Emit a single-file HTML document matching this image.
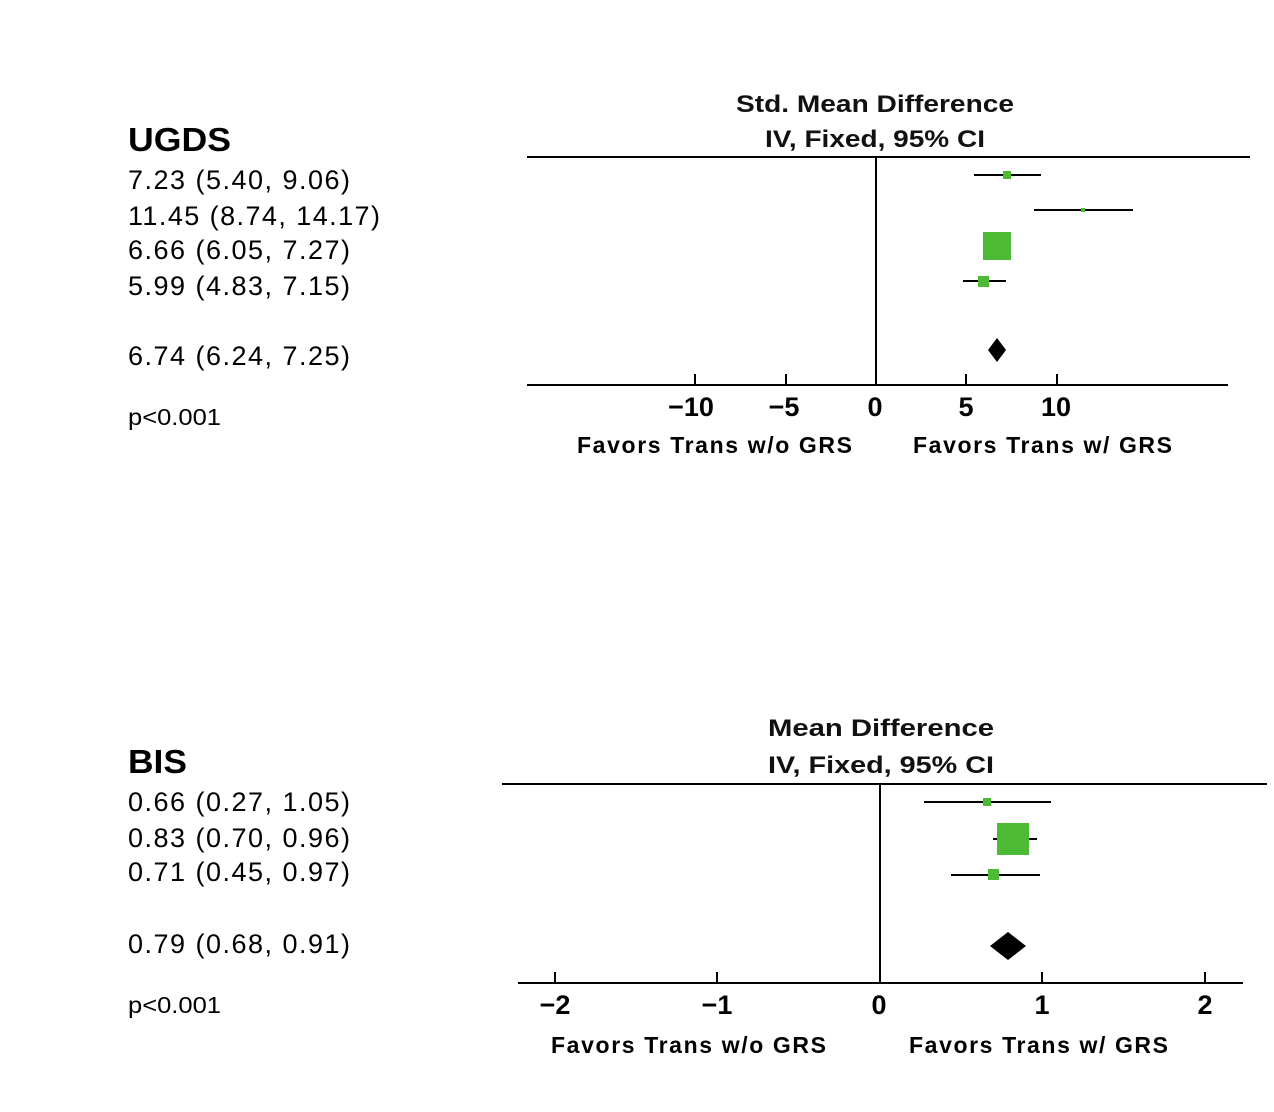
<!DOCTYPE html>
<html><head><meta charset="utf-8"><style>body{margin:0;background:#fff}svg{display:block}</style></head><body>
<svg width="1274" height="1112" viewBox="0 0 1274 1112" xmlns="http://www.w3.org/2000/svg" font-family="Liberation Sans, sans-serif">
<rect width="1274" height="1112" fill="#fff"/>
<text x="128" y="151" font-size="33" font-weight="bold" textLength="103" lengthAdjust="spacingAndGlyphs">UGDS</text>
<g font-size="27" lengthAdjust="spacingAndGlyphs">
<text x="128" y="189" textLength="222">7.23 (5.40,  9.06)</text>
<text x="128" y="225" textLength="252">11.45  (8.74,  14.17)</text>
<text x="128" y="259" textLength="222">6.66 (6.05,  7.27)</text>
<text x="128" y="295" textLength="222">5.99 (4.83,  7.15)</text>
<text x="128" y="365" textLength="222">6.74 (6.24,  7.25)</text>
</g>
<text x="128" y="425" font-size="23" textLength="93" lengthAdjust="spacingAndGlyphs">p&lt;0.001</text>
<g font-weight="bold" font-size="24" text-anchor="middle" fill="#111">
<text x="875" y="112" textLength="278" lengthAdjust="spacingAndGlyphs">Std. Mean Difference</text>
<text x="875" y="147" textLength="220" lengthAdjust="spacingAndGlyphs">IV, Fixed, 95% CI</text>
</g>
<g stroke="#000" stroke-width="2">
<line x1="527" y1="157" x2="1250" y2="157"/>
<line x1="876" y1="157" x2="876" y2="385"/>
<line x1="527" y1="385" x2="1228" y2="385"/>
<line x1="695" y1="374" x2="695" y2="385"/><line x1="786" y1="374" x2="786" y2="385"/>
<line x1="966" y1="374" x2="966" y2="385"/><line x1="1057" y1="374" x2="1057" y2="385"/>
<line x1="974" y1="175" x2="1041" y2="175"/>
<line x1="1034" y1="210" x2="1133" y2="210"/>
<line x1="963" y1="281" x2="1006" y2="281"/>
</g>
<g fill="#4cba35">
<rect x="1003" y="171" width="8" height="8"/>
<rect x="1081" y="208" width="4" height="4"/>
<rect x="983" y="232" width="28" height="28"/>
<rect x="978" y="276" width="11" height="11"/>
</g>
<polygon points="997,338 1006,350 997,362 988,350" fill="#000"/>
<g font-weight="bold" font-size="27" text-anchor="middle">
<text x="691" y="416">−10</text><text x="784" y="416">−5</text><text x="875" y="416">0</text>
<text x="966" y="416">5</text><text x="1056" y="416">10</text>
</g>
<g font-weight="bold" font-size="23" lengthAdjust="spacingAndGlyphs">
<text x="577" y="453" textLength="275">Favors Trans w/o GRS</text>
<text x="913" y="453" textLength="259">Favors Trans w/ GRS</text>
</g>
<text x="128" y="773" font-size="33" font-weight="bold" textLength="59" lengthAdjust="spacingAndGlyphs">BIS</text>
<g font-size="27" lengthAdjust="spacingAndGlyphs">
<text x="128" y="811" textLength="222">0.66 (0.27,  1.05)</text>
<text x="128" y="847" textLength="222">0.83 (0.70,  0.96)</text>
<text x="128" y="881" textLength="222">0.71 (0.45,  0.97)</text>
<text x="128" y="953" textLength="222">0.79 (0.68,  0.91)</text>
</g>
<text x="128" y="1013" font-size="23" textLength="93" lengthAdjust="spacingAndGlyphs">p&lt;0.001</text>
<g font-weight="bold" font-size="24" text-anchor="middle" fill="#111">
<text x="881" y="736" textLength="226" lengthAdjust="spacingAndGlyphs">Mean Difference</text>
<text x="881" y="773" textLength="226" lengthAdjust="spacingAndGlyphs">IV, Fixed, 95% CI</text>
</g>
<g stroke="#000" stroke-width="2">
<line x1="502" y1="784" x2="1267" y2="784"/>
<line x1="880" y1="784" x2="880" y2="983"/>
<line x1="518" y1="983" x2="1243" y2="983"/>
<line x1="555" y1="972" x2="555" y2="983"/><line x1="717" y1="972" x2="717" y2="983"/>
<line x1="1042" y1="972" x2="1042" y2="983"/><line x1="1205" y1="972" x2="1205" y2="983"/>
<line x1="924" y1="802" x2="1051" y2="802"/>
<line x1="993" y1="839" x2="1037" y2="839"/>
<line x1="951" y1="875" x2="1040" y2="875"/>
</g>
<g fill="#4cba35">
<rect x="983" y="798" width="8" height="8"/>
<rect x="997" y="823" width="32" height="32"/>
<rect x="988" y="869" width="11" height="11"/>
</g>
<polygon points="1008,932 1026,946 1008,960 990,946" fill="#000"/>
<g font-weight="bold" font-size="27" text-anchor="middle">
<text x="555" y="1014">−2</text><text x="717" y="1014">−1</text><text x="879" y="1014">0</text>
<text x="1042" y="1014">1</text><text x="1205" y="1014">2</text>
</g>
<g font-weight="bold" font-size="23" lengthAdjust="spacingAndGlyphs">
<text x="551" y="1053" textLength="275">Favors Trans w/o GRS</text>
<text x="909" y="1053" textLength="259">Favors Trans w/ GRS</text>
</g>
</svg>
</body></html>
